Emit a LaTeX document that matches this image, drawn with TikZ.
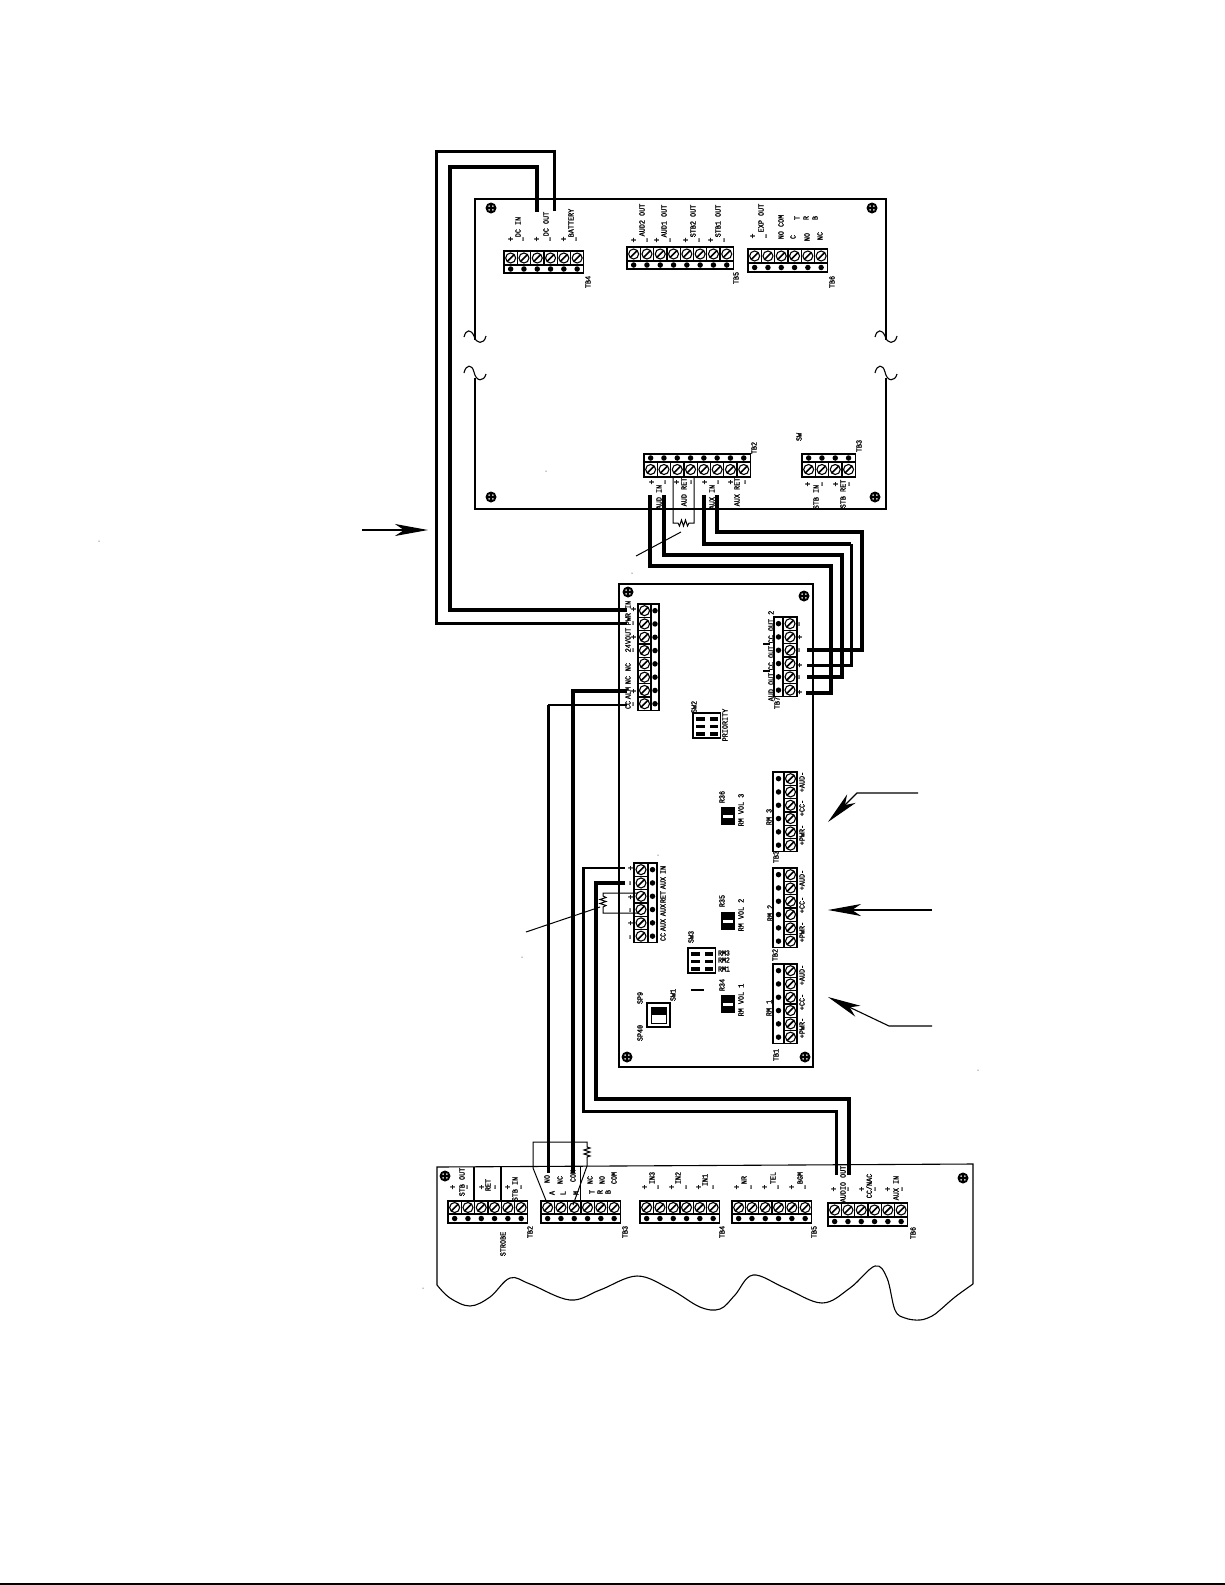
\documentclass[tikz,border=0pt]{standalone}
\usepackage{fontspec}
\newfontfamily\cadfont[FakeStretch=0.85,FakeBold=1.2]{Liberation Mono}
\usetikzlibrary{arrows.meta}

\tikzset{
  board/.style={line width=1.1pt},
  tbox/.style={line width=1.3pt},
  thin wire/.style={line width=1pt},
  wirea/.style={line width=3.6pt},
  wireb/.style={line width=3pt},
  wirec/.style={line width=1.8pt},
  screw/.style={circle, draw, line width=1.1pt, minimum size=10pt, inner sep=0pt,
    path picture={\draw [line width=1.6pt] (path picture bounding box.south west) -- (path picture bounding box.north east);}},
  pin/.style={circle, fill=black, minimum size=5.5pt, inner sep=0pt},
  mount/.style={circle, fill=black, minimum size=11pt, inner sep=0pt,
    path picture={\fill [white] (path picture bounding box.center) +(1.9pt,1.9pt) circle (0.9pt) +(-1.9pt,1.9pt) circle (0.9pt) +(1.9pt,-1.9pt) circle (0.9pt) +(-1.9pt,-1.9pt) circle (0.9pt);}},
  lbl/.style={font=\cadfont\fontsize{8}{9}\selectfont, rotate=90, inner sep=0pt},
  lblh/.style={font=\cadfont\fontsize{7.6}{9}\selectfont, inner sep=0pt},
  sign/.style={font=\cadfont\fontsize{9.5}{10}\selectfont, rotate=90, inner sep=0pt},
  leader/.style={line width=1.1pt, -{Stealth[length=33pt, width=12pt, inset=9pt]}},
}

% terminal block, cells side by side: name, left x, cells, screw edge, divider, pin edge
\newcommand{\tbh}[6]{
  \draw [tbox] (#2,#4) rectangle ({#2+13.3*#3},#6);
  \draw [tbox] (#2,#5) -- ({#2+13.3*#3},#5);
  \foreach \i in {1,...,#3} {
    \draw [tbox] ({#2+13.3*\i},#4) -- ({#2+13.3*\i},#5);
    \node [screw] (#1s\i) at ({#2+13.3*(\i-0.5)},{(#4+#5)/2}) {};
    \node [pin] (#1p\i) at ({#2+13.3*(\i-0.5)},{(#5+#6)/2}) {};
  }
}
% terminal block, cells one above the other: name, top y, cells, screw edge, divider, pin edge
\newcommand{\tbv}[6]{
  \draw [tbox] (#4,#2) rectangle (#6,{#2+13.3*#3});
  \draw [tbox] (#5,#2) -- (#5,{#2+13.3*#3});
  \foreach \i in {1,...,#3} {
    \draw [tbox] (#4,{#2+13.3*\i}) -- (#5,{#2+13.3*\i});
    \node [screw] (#1s\i) at ({(#4+#5)/2},{#2+13.3*(\i-0.5)}) {};
    \node [pin] (#1p\i) at ({(#5+#6)/2},{#2+13.3*(\i-0.5)}) {};
  }
}

\begin{document}
\begin{tikzpicture}[x=1pt,y=-1pt]
\useasboundingbox (0,0) rectangle (1225,1585);
\draw [line width=1.5pt] (0,1584) -- (1225,1584);

% top board
\draw [board] (475,320) -- (475,199) -- (886,199) -- (886,320);
\draw [board] (475,385) -- (475,509) -- (886,509) -- (886,385);
\foreach \bx in {475,886} {
  \draw [board] (\bx-11,337) .. controls (\bx-9,329) and (\bx-4,329) .. (\bx-1,336) .. controls (\bx+1,344) and (\bx+9,345) .. (\bx+11,336);
  \draw [board] (\bx,320) -- (\bx,340);
  \draw [board] (\bx-11,373) .. controls (\bx-9,364) and (\bx-3,364) .. (\bx-1,372) .. controls (\bx+1,382) and (\bx+9,382) .. (\bx+11,374);
  \draw [board] (\bx,378) -- (\bx,385);
}
\node [mount] (mta) at (491,208) {};
\node [mount] (mtb) at (872,208) {};
\node [mount] (mtc) at (491,497) {};
\node [mount] (mtd) at (875,497) {};

\tbh{tbiv}{504}{6}{251}{265}{273}
\tbh{tbv}{627}{8}{247}{261}{269}
\tbh{tbvi}{748}{6}{249}{263}{272}
\tbh{tbii}{644}{8}{477}{462}{454}
\tbh{tbiii}{802}{4}{477}{462}{454}

\foreach \px/\py/\txt [count=\n] in {518/227/DC IN, 546/224/DC OUT, 571/223/BATTERY, 588/282/TB4,
  642/220/AUD2 OUT, 664/221/AUD1 OUT, 693/221/STB2 OUT, 718/221/STB1 OUT, 736/278/TB5,
  761/218/EXP OUT, 781/227/NO COM, 793/237/C, 807/237/NO, 820/236/NC, 797/218/T, 806/218/R, 815/218/B, 832/282/TB6,
  659/497/AUD IN, 684/492/AUD RET, 712/497/AUX IN, 737/492/AUX RET, 754/448/TB2,
  816/497/STB IN, 843/494/STB RET, 859/446/TB3, 799/437/SW}
  \node [lbl] (topl\n) at (\px,\py) {\txt};
\foreach \px/\py/\txt [count=\n] in {511/239/+, 524/239/–, 537/239/+, 551/239/–, 564/239/+, 577/239/–,
  634/240/+, 648/240/–, 657/240/+, 671/240/–, 686/240/+, 700/240/–, 711/240/+, 725/240/–,
  753/236/+, 767/236/–,
  652/482/+, 666/482/–, 677/482/+, 692/482/–, 705/482/+, 719/482/–, 731/482/+, 746/482/–,
  808/484/+, 823/484/–, 836/484/+, 850/484/–}
  \node [sign] (tops\n) at (\px,\py) {\txt};

% middle board
\draw [board] (619,584) rectangle (813,1067);
\node [mount] (mte) at (628,592) {};
\node [mount] (mtf) at (804,596) {};
\node [mount] (mtg) at (627,1057) {};
\node [mount] (mth) at (805,1057) {};

\tbv{tbpwr}{604}{8}{638}{651}{659}
\tbv{tbaux}{863}{6}{634}{648}{657}
\tbv{tbvii}{617}{6}{797}{783}{774}
\tbv{rmiii}{772}{6}{797}{784}{773}
\tbv{rmii}{868}{6}{797}{784}{773}
\tbv{rmi}{964}{6}{797}{784}{773}

\foreach \px/\py/\txt [count=\n] in {628/613/PWR IN, 628/640/24VOUT, 628/667/NC, 628/680/NC, 628/693/ALM, 628/705/CC,
  663/870/IN, 663/883/AUX, 663/897/RET, 663/910/AUX, 663/925/AUX, 663/937/CC,
  771/687/AUD OUT, 771/658/CC OUT, 771/627/CC OUT 2, 777/703/TB7,
  769/817/RM 3, 802/835/+PWR-, 802/808/+CC-, 802/782/+AUD-, 776/857/TB3,
  770/913/RM 2, 802/932/+PWR-, 802/905/+CC-, 802/880/+AUD-, 775/955/TB2,
  769/1008/RM 1, 802/1028/+PWR-, 802/1002/+CC-, 802/975/+AUD-, 776/1055/TB1,
  722/797/R36, 741/810/RM VOL 3, 722/901/R35, 741/915/RM VOL 2, 722/985/R34, 741/1000/RM VOL 1,
  694/707/SW2, 725/725/PRIORITY, 691/937/SW3, 673/995/SW1, 640/998/SP9, 640/1033/SP40}
  \node [lbl] (midl\n) at (\px,\py) {\txt};
\foreach \py/\txt [count=\n] in {953/RM3, 960/RM2, 969/RM1}
  \node [lblh] (swl\n) at (724,\py) {\txt};
\foreach \px/\py/\txt [count=\n] in {634/609/+, 634/623/–, 634/637/+, 634/650/–, 634/691/+, 634/704/–,
  631/868/+, 631/883/–, 631/897/+, 631/910/–, 631/923/+, 631/937/–,
  800/624/–, 800/637/+, 800/650/–, 800/665/+, 800/677/–, 800/692/+}
  \node [sign] (mids\n) at (\px,\py) {\txt};
\draw [tbox] (763,671) -- (770,671);
\draw [tbox] (763,644) -- (770,644);
\draw [tbox] (691,990) -- (704,990);

% switches and pots
\foreach \sx/\sy [count=\n] in {693/713, 688/948} {
  \draw [line width=1.3pt] (\sx,\sy) rectangle ++(27.5,25);
  \foreach \rr in {0,1,2} {
    \fill (\sx+3,\sy+4+\rr*7.5) rectangle ++(8.5,3.8);
    \fill (\sx+16.5,\sy+4+\rr*7.5) rectangle ++(8.5,3.8);
  }
}
\foreach \ry in {807,912,995} {
  \fill (721,\ry) rectangle ++(14,17.5);
  \fill [white] (723,\ry+8) rectangle ++(10,2.5);
}
\draw [line width=1.3pt] (647,1003) rectangle (670,1027);
\fill (651,1007) rectangle (666,1015);
\draw [line width=1pt] (651,1007) rectangle (666,1023);

% bottom board
\draw [board] (437,1285) -- (437,1167) -- (973,1164) -- (973,1284);
\draw [board] plot [smooth, tension=0.6] coordinates {(437,1285) (450,1298) (470,1306) (490,1297) (510,1278) (530,1284) (570,1300) (600,1290) (637,1276) (670,1289) (700,1307) (720,1309) (735,1295) (753,1275) (785,1288) (822,1303) (850,1288) (875,1266) (887,1278) (895,1310) (905,1318) (920,1320) (932,1316) (940,1310) (955,1297) (973,1284)};
\node [mount] (mti) at (445,1176) {};
\node [mount] (mtj) at (963,1178) {};

\tbh{btbii}{448}{6}{1201}{1214}{1223}
\tbh{btbiii}{541}{6}{1201}{1214}{1223}
\tbh{btbiv}{640}{6}{1201}{1214}{1223}
\tbh{btbv}{732}{6}{1201}{1214}{1223}
\tbh{btbvi}{828}{6}{1203}{1217}{1226}

\draw [board] (474,1167) -- (474,1201);
\draw [board] (501,1167) -- (501,1201);
\draw [line width=2pt] (488,1223) -- (520,1223);

\foreach \px/\py/\txt [count=\n] in {462/1182/STB OUT, 488/1185/RET, 515/1189/STB IN, 503/1244/STROBE, 530/1232/TB2,
  547/1179/NO, 560/1180/NC, 573/1176/COM, 552/1193/A, 563/1193/L, 576/1193/M,
  590/1180/NC, 602/1180/NO, 614/1178/COM, 592/1192/T, 600/1192/R, 608/1192/B, 625/1232/TB3,
  652/1178/IN3, 678/1178/IN2, 705/1180/IN1, 722/1232/TB4,
  744/1180/NR, 773/1178/TEL, 800/1178/BGM, 814/1232/TB5,
  843/1184/AUDIO OUT, 869/1186/{CC/NAC}, 896/1188/AUX IN, 913/1233/TB6}
  \node [lbl] (botl\n) at (\px,\py) {\txt};
\foreach \px/\py/\txt [count=\n] in {453/1187/+, 468/1187/–, 482/1187/+, 496/1187/–, 508/1187/+, 522/1187/–,
  645/1187/+, 659/1187/–, 672/1187/+, 687/1187/–, 699/1187/+, 714/1187/–,
  737/1187/+, 752/1187/–, 765/1187/+, 779/1187/–, 792/1187/+, 806/1187/–,
  834/1189/+, 849/1189/–, 862/1189/+, 876/1189/–, 888/1189/+, 903/1189/–}
  \node [sign] (bots\n) at (\px,\py) {\txt};

% wire ends
\coordinate (dcoutp) at (537,212);
\coordinate (dcoutm) at (554,211);
\coordinate (pwrp) at (627,610);
\coordinate (pwrm) at (627,623);
\coordinate (bendp) at (450,167);
\coordinate (bendm) at (436,151);
\coordinate (audip) at (650,495);
\coordinate (audim) at (664,495);
\coordinate (auxip) at (704,495);
\coordinate (auxim) at (717,495);
\coordinate (outa) at (806,693);
\coordinate (outb) at (807,677);
\coordinate (outc) at (807,665);
\coordinate (outd) at (807,650);
\coordinate (benda) at (831,566);
\coordinate (bendb) at (842,555);
\coordinate (bendc) at (851,544);
\coordinate (bendd) at (862,532);
\coordinate (alm) at (627,691);
\coordinate (ccm) at (627,705);
\coordinate (relno) at (548,1173);
\coordinate (relcom) at (573,1173);
\coordinate (auxin) at (625,868);
\coordinate (auxinm) at (625,883);
\coordinate (audop) at (836,1175);
\coordinate (audom) at (849,1175);
\coordinate (bende) at (583,1111);
\coordinate (bendf) at (596,1099);
\coordinate (ccbend) at (548,705);

\draw [wirea] (dcoutp) |- (bendp) |- (pwrp);
\draw [wireb] (dcoutm) |- (bendm) |- (pwrm);
\draw [wirea] (audip) |- (benda) |- (outa);
\draw [wirea] (audim) |- (bendb) |- (outb);
\draw [wirea] (auxip) |- (bendc);
\draw [wireb] (bendc) |- (outc);
\draw [wirea] (auxim) |- (bendd) |- (outd);
\draw [wirea] (relcom) |- (alm);
\draw [wireb] (relno) -- (ccbend);
\draw [wirec] (ccbend) -- (ccm);
\draw [wirec] (auxin) -| (bende);
\draw [wireb] (bende |- auxin) -- (bende) -| (audop);
\draw [wirea] (auxinm) -| (bendf) -| (audom);

% resistors
\draw [thin wire] (673,477) -- (673,523) -- (678,523) -- ++(1.5,3) -- ++(2,-6) -- ++(2,6) -- ++(2,-6) -- ++(2,6) -- ++(1.5,-3) -- (694,523) -- (694,477);
\draw [thin wire] (636,556) -- (681,532);
\draw [thin wire] (638,893) -- (603,893) -- (603,896) -- ++(3,1.5) -- ++(-6,2) -- ++(6,2) -- ++(-6,2) -- ++(6,2) -- ++(-3,1.5) -- (603,913) -- (638,913);
\draw [thin wire] (526,932) -- (600,907);
\draw [thin wire] (547,1203) -- (533,1168) -- (533,1142) -- (587,1142) -- (587,1147) -- ++(3,1) -- ++(-6,2) -- ++(6,2) -- ++(-6,2) -- ++(6,2) -- ++(-3,1) -- (587,1166) -- (573,1205);
\draw [thin wire] (580,1166) -- (580,1201);

% leaders
\coordinate (ldra) at (362,530);
\coordinate (ldrat) at (428,530);
\draw [leader] (ldra) -- (ldrat);
\coordinate (ldrb) at (918,793);
\coordinate (ldrbm) at (857,793);
\coordinate (ldrbt) at (828,822);
\draw [leader] (ldrb) -- (ldrbm) -- (ldrbt);
\coordinate (ldrc) at (932,910);
\coordinate (ldrct) at (828,910);
\draw [leader] (ldrc) -- (ldrct);
\coordinate (ldrd) at (932,1026);
\coordinate (ldrdm) at (889,1026);
\coordinate (ldrdt) at (828,997);
\draw [leader] (ldrd) -- (ldrdm) -- (ldrdt);

% specks on the sheet
\foreach \px/\py in {99/541, 632/573, 546/471, 658/855, 522/957, 978/1070, 423/1288}
  \fill (\px,\py) circle (0.5pt);
\end{tikzpicture}
\end{document}
